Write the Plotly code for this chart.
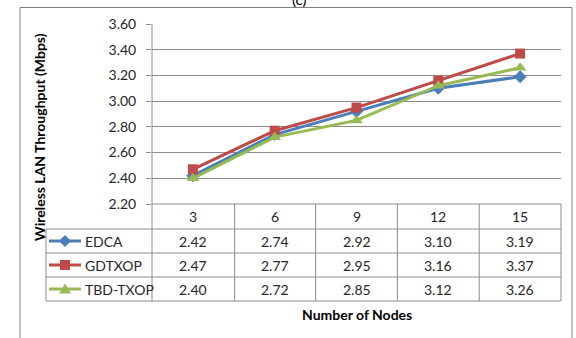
import plotly.graph_objects as go

categories = [3, 6, 9, 12, 15]
series_names = ["EDCA", "GDTXOP", "TBD-TXOP"]
edca = [2.42, 2.74, 2.92, 3.10, 3.19]
gdtxop = [2.47, 2.77, 2.95, 3.16, 3.37]
tbd_txop = [2.40, 2.72, 2.85, 3.12, 3.26]
y_ticks = [2.20, 2.40, 2.60, 2.80, 3.00, 3.20, 3.40, 3.60]

W, H = 576, 338
L, R, T, B = 152, 561, 24, 204   # plot area in pixels

def px(xp):
    return (xp - L) / (R - L)

def py(yp):
    return (B - yp) / (B - T)

FONT = "Lato"
TXT = "#262626"
GRID = "#8c8c8c"
colors = ["#4A7EBB", "#BE4B48", "#98B954"]
symbols = ["diamond", "square", "triangle-up"]
msizes = [10, 10, 11]
series = [edca, gdtxop, tbd_txop]

fig = go.Figure()
for name, vals, c, s, ms in zip(series_names, series, colors, symbols, msizes):
    fig.add_trace(go.Scatter(
        x=categories, y=vals, name=name, mode="lines+markers",
        line=dict(color=c, width=3),
        marker=dict(symbol=s, size=ms, color=c, line=dict(width=0)),
        showlegend=False, cliponaxis=False,
    ))

shapes = []
annotations = []

def note(x, y, text, xref="paper", size=14, color=TXT, **kw):
    d = dict(x=x, xref=xref, y=y, yref="paper", text=text, showarrow=False,
             xanchor=kw.pop("xanchor", "center"), yanchor=kw.pop("yanchor", "middle"),
             font=dict(family=FONT, size=size, color=color))
    d.update(kw)
    annotations.append(d)

# outer frame
shapes.append(dict(type="rect", xref="paper", yref="paper",
                   x0=px(20), x1=px(572), y0=py(345), y1=py(7.5),
                   line=dict(color="#7f7f7f", width=1), layer="below"))

# table grid
row_lines = [229, 253, 277, 301]
col_lines = [152, 234.6, 315.6, 397.4, 479.2, 561]
for yl in row_lines:
    shapes.append(dict(type="line", xref="paper", yref="paper",
                       x0=px(46), x1=px(561), y0=py(yl), y1=py(yl),
                       line=dict(color=GRID, width=1)))
shapes.append(dict(type="line", xref="paper", yref="paper",
                   x0=px(152), x1=px(561), y0=py(204), y1=py(204),
                   line=dict(color=GRID, width=1)))
for xl in col_lines:
    shapes.append(dict(type="line", xref="paper", yref="paper",
                       x0=px(xl), x1=px(xl), y0=py(24 if xl == 152 else 204), y1=py(301),
                       line=dict(color=GRID, width=1)))
shapes.append(dict(type="line", xref="paper", yref="paper",
                   x0=px(46), x1=px(46), y0=py(229), y1=py(301),
                   line=dict(color=GRID, width=1)))

# header row (categories)
for c in categories:
    note(c, py(216.5), str(c), xref="x")

# data rows + legend keys
row_centers = [241, 265, 289]
tri = "M -6 -4.5 L 6 -4.5 L 0 5.5 Z"
paths = ["M 0 6 L 6 0 L 0 -6 L -6 0 Z", "M -5 -5 L 5 -5 L 5 5 L -5 5 Z", tri]
for name, vals, c, rc, pth in zip(series_names, series, colors, row_centers, paths):
    for cat, v in zip(categories, vals):
        note(cat, py(rc), f"{v:.2f}", xref="x")
    shapes.append(dict(type="line", xref="paper", yref="paper",
                       x0=px(49), x1=px(81), y0=py(rc), y1=py(rc),
                       line=dict(color=c, width=3)))
    shapes.append(dict(type="path", xref="paper", yref="paper",
                       xsizemode="pixel", ysizemode="pixel",
                       xanchor=px(65), yanchor=py(rc), path=pth,
                       fillcolor=c, line=dict(width=0)))
    note(px(83), py(rc), name, xanchor="left")

# axis titles
note(px(39), py(137), "<b>Wireless LAN Throughput (Mbps)</b>", size=14,
     color="#000000", textangle=-90)
note(px(357), py(314), "<b>Number of Nodes</b>", size=14, color="#000000")
# partially visible caption at the top
note(px(299), py(-1), "(c)", size=15, color="#000000")

fig.update_layout(
    width=W, height=H, autosize=False,
    margin=dict(l=L, r=W - R, t=T, b=H - B, pad=0),
    paper_bgcolor="white", plot_bgcolor="white",
    shapes=shapes, annotations=annotations,
    xaxis=dict(showticklabels=False, showgrid=False, zeroline=False,
               showline=False, ticks="", range=[1.5, 16.5]),
    yaxis=dict(range=[2.2, 3.6], tickvals=y_ticks, tickformat=".2f",
               showgrid=True, gridcolor=GRID, gridwidth=1, zeroline=False,
               showline=False, ticks="outside", ticklen=5, tickcolor=GRID,
               ticklabelstandoff=7,
               tickfont=dict(family=FONT, size=14, color=TXT)),
)

fig.write_html("out.html")
